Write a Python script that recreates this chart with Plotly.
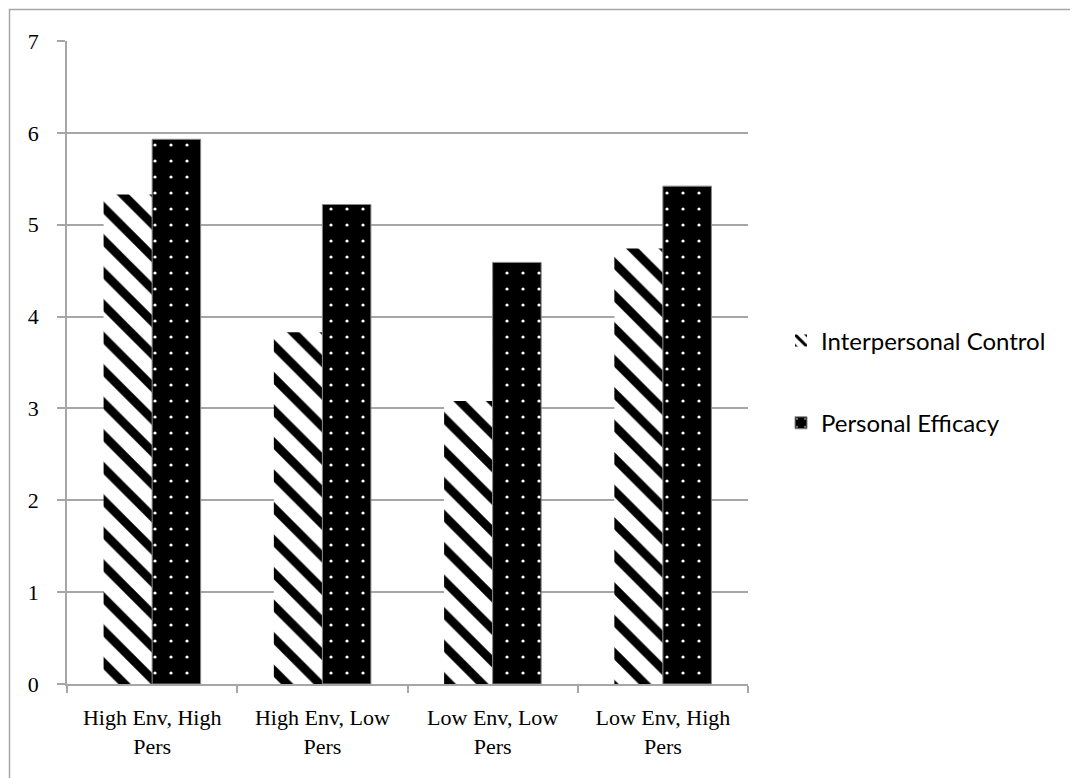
import plotly.graph_objects as go

categories = ["High Env, High<br>Pers", "High Env, Low<br>Pers", "Low Env, Low<br>Pers", "Low Env, High<br>Pers"]
interpersonal_control = [5.33, 3.83, 3.08, 4.74]
personal_efficacy = [5.93, 5.22, 4.59, 5.42]
y_ticks = [0, 1, 2, 3, 4, 5, 6, 7]

fig = go.Figure()
fig.add_trace(go.Bar(
    x=categories, y=interpersonal_control, name="Interpersonal Control",
    legendgroup="a",
    marker=dict(color="white", line=dict(width=0),
                pattern=dict(shape="\\", fgcolor="black", bgcolor="white",
                             size=23, solidity=0.38, fillmode="replace")),
))
fig.add_trace(go.Bar(
    x=categories, y=personal_efficacy, name="Personal Efficacy",
    legendgroup="b",
    marker=dict(color="black", line=dict(width=1, color="#888888"),
                pattern=dict(shape=".", fgcolor="white", bgcolor="black",
                             size=16, solidity=0.032, fillmode="replace")),
))

grid = "#a6a6a6"
# the page body adds an 8px offset; margins compensate
L, T, W, H = 59, 33, 681, 643
fig.update_layout(
    width=1078, height=778,
    margin=dict(l=L, r=1078 - L - W, t=T, b=778 - T - H),
    paper_bgcolor="white", plot_bgcolor="white",
    barmode="group", bargap=0.43, bargroupgap=0,
    showlegend=True,
    legend=dict(x=(781 - 67) / W, xanchor="left", y=(684 - 382) / H, yanchor="middle",
                traceorder="grouped", tracegroupgap=48,
                font=dict(family="Lato", size=24, color="black")),
    xaxis=dict(type="category", tickson="boundaries", ticks="outside",
               ticklen=7, tickcolor=grid, tickwidth=1.5,
               showline=True, linecolor=grid, linewidth=1.5,
               showgrid=False, ticklabelstandoff=13,
               tickfont=dict(family="Liberation Serif", size=22, color="black")),
    yaxis=dict(range=[0, 7], tickvals=y_ticks, ticks="outside", ticklen=8,
               tickcolor=grid, tickwidth=1.5,
               showline=True, linecolor=grid, linewidth=1.5,
               showgrid=True, gridcolor=grid, gridwidth=1.5, zeroline=False,
               ticklabelstandoff=14,
               tickfont=dict(family="Liberation Serif", size=22, color="black")),
    shapes=[dict(type="rect", xref="paper", yref="paper",
                 x0=(9.5 - 67) / W, x1=(1090 - 67) / W,
                 y0=(684 - 790) / H, y1=(684 - 9.5) / H,
                 line=dict(color=grid, width=1.5), layer="below")],
)

fig.write_html("out.html")
